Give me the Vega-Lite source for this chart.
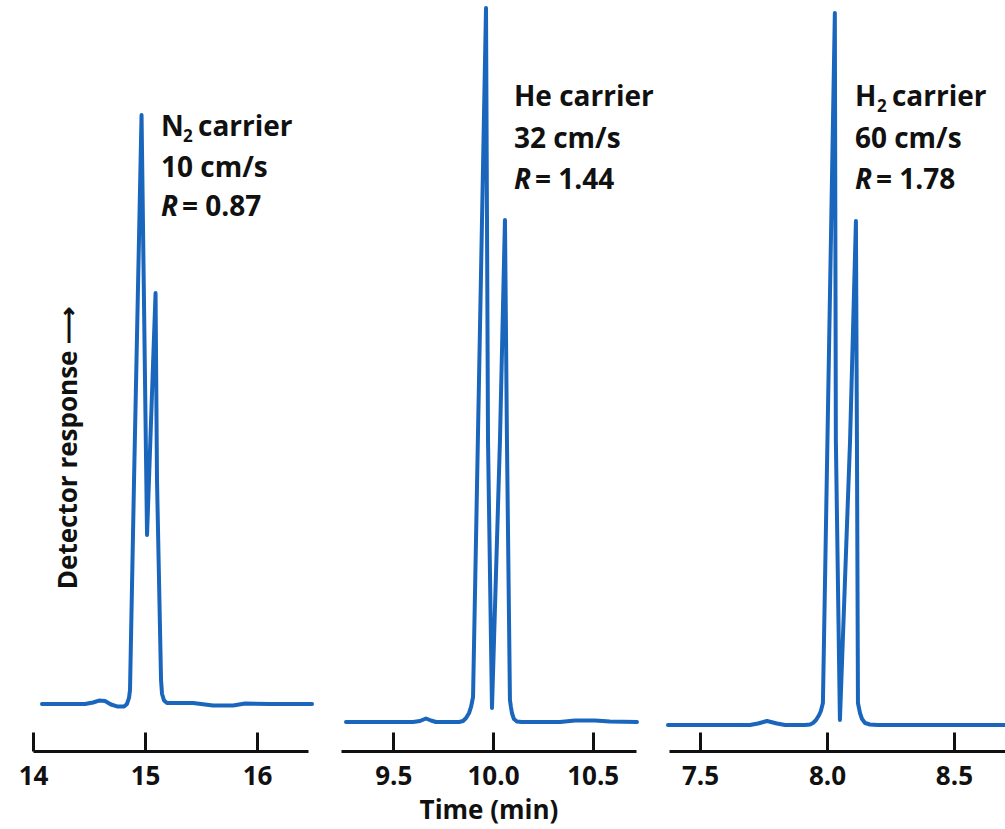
{
  "$schema": "https://vega.github.io/schema/vega-lite/v6.json",
  "background": "white",
  "padding": {"left": 18, "top": 0, "right": 0, "bottom": 12},
  "autosize": {"type": "pad"},
  "config": {
    "view": {"stroke": null},
    "axis": {"grid": false, "domainColor": "#111", "domainWidth": 3, "tickColor": "#111", "tickWidth": 3, "tickSize": -19, "labelFont": "Open Sans", "labelFontWeight": "bold", "labelFontSize": 26, "labelColor": "#111", "labelPadding": 31, "labelFlush": false, "labelOverlap": false, "titleFont": "Open Sans", "titleFontWeight": "bold", "titleFontSize": 26, "titleColor": "#111", "titlePadding": 8},
    "text": {"font": "Open Sans", "fontWeight": "bold", "fontSize": 28, "color": "#111", "align": "left", "baseline": "alphabetic"}
  },
  "datasets": {
    "trace": [
      {"panel": "N2", "t": 14.080, "v": 6.26}, {"panel": "N2", "t": 14.464, "v": 6.26}, {"panel": "N2", "t": 14.536, "v": 6.46}, {"panel": "N2", "t": 14.589, "v": 6.72}, {"panel": "N2", "t": 14.643, "v": 6.66}, {"panel": "N2", "t": 14.696, "v": 6.19}, {"panel": "N2", "t": 14.750, "v": 5.93}, {"panel": "N2", "t": 14.813, "v": 5.93}, {"panel": "N2", "t": 14.839, "v": 6.26}, {"panel": "N2", "t": 14.857, "v": 7.06}, {"panel": "N2", "t": 14.866, "v": 8.12}, {"panel": "N2", "t": 14.902, "v": 36.08}, {"panel": "N2", "t": 14.969, "v": 84.69}, {"panel": "N2", "t": 15.018, "v": 28.76}, {"panel": "N2", "t": 15.094, "v": 60.99}, {"panel": "N2", "t": 15.107, "v": 36.08}, {"panel": "N2", "t": 15.143, "v": 9.45}, {"panel": "N2", "t": 15.152, "v": 7.59}, {"panel": "N2", "t": 15.170, "v": 6.72}, {"panel": "N2", "t": 15.196, "v": 6.39}, {"panel": "N2", "t": 15.429, "v": 6.39}, {"panel": "N2", "t": 15.607, "v": 6.06}, {"panel": "N2", "t": 15.786, "v": 6.06}, {"panel": "N2", "t": 15.893, "v": 6.32}, {"panel": "N2", "t": 16.116, "v": 6.26}, {"panel": "N2", "t": 16.491, "v": 6.26},
      {"panel": "He", "t": 9.263, "v": 3.86}, {"panel": "He", "t": 9.599, "v": 3.86}, {"panel": "He", "t": 9.634, "v": 3.99}, {"panel": "He", "t": 9.664, "v": 4.33}, {"panel": "He", "t": 9.689, "v": 4.06}, {"panel": "He", "t": 9.714, "v": 3.86}, {"panel": "He", "t": 9.830, "v": 3.86}, {"panel": "He", "t": 9.850, "v": 3.99}, {"panel": "He", "t": 9.865, "v": 4.39}, {"panel": "He", "t": 9.880, "v": 5.06}, {"panel": "He", "t": 9.890, "v": 5.86}, {"panel": "He", "t": 9.900, "v": 7.19}, {"panel": "He", "t": 9.965, "v": 98.94}, {"panel": "He", "t": 9.975, "v": 41.41}, {"panel": "He", "t": 9.995, "v": 5.73}, {"panel": "He", "t": 10.035, "v": 41.41}, {"panel": "He", "t": 10.060, "v": 70.71}, {"panel": "He", "t": 10.070, "v": 41.41}, {"panel": "He", "t": 10.085, "v": 6.79}, {"panel": "He", "t": 10.090, "v": 5.86}, {"panel": "He", "t": 10.095, "v": 5.06}, {"panel": "He", "t": 10.105, "v": 4.26}, {"panel": "He", "t": 10.120, "v": 3.93}, {"panel": "He", "t": 10.145, "v": 3.86}, {"panel": "He", "t": 10.336, "v": 3.86}, {"panel": "He", "t": 10.411, "v": 4.06}, {"panel": "He", "t": 10.511, "v": 4.06}, {"panel": "He", "t": 10.586, "v": 3.93}, {"panel": "He", "t": 10.722, "v": 3.86},
      {"panel": "H2", "t": 7.374, "v": 3.46}, {"panel": "H2", "t": 7.697, "v": 3.46}, {"panel": "H2", "t": 7.728, "v": 3.66}, {"panel": "H2", "t": 7.764, "v": 3.99}, {"panel": "H2", "t": 7.803, "v": 3.66}, {"panel": "H2", "t": 7.835, "v": 3.46}, {"panel": "H2", "t": 7.913, "v": 3.46}, {"panel": "H2", "t": 7.933, "v": 3.53}, {"panel": "H2", "t": 7.945, "v": 3.73}, {"panel": "H2", "t": 7.957, "v": 4.13}, {"panel": "H2", "t": 7.969, "v": 4.79}, {"panel": "H2", "t": 7.976, "v": 5.33}, {"panel": "H2", "t": 7.984, "v": 6.39}, {"panel": "H2", "t": 8.031, "v": 98.27}, {"panel": "H2", "t": 8.035, "v": 41.41}, {"panel": "H2", "t": 8.051, "v": 4.13}, {"panel": "H2", "t": 8.091, "v": 41.41}, {"panel": "H2", "t": 8.114, "v": 70.57}, {"panel": "H2", "t": 8.118, "v": 41.41}, {"panel": "H2", "t": 8.122, "v": 6.39}, {"panel": "H2", "t": 8.130, "v": 5.06}, {"panel": "H2", "t": 8.138, "v": 4.26}, {"panel": "H2", "t": 8.150, "v": 3.73}, {"panel": "H2", "t": 8.169, "v": 3.53}, {"panel": "H2", "t": 8.200, "v": 3.46}, {"panel": "H2", "t": 8.701, "v": 3.46}
    ],
    "labels": [
      {"panel": "N2", "part": "yaxis", "t": 14.393, "v": 40.35, "text": "Detector response ⟶"},
      {"panel": "N2", "part": "sym", "t": 15.143, "v": 81.89, "text": "N"},
      {"panel": "N2", "part": "sub", "t": 15.143, "v": 81.89, "text": "2"},
      {"panel": "N2", "part": "rest", "t": 15.143, "v": 81.89, "text": "carrier"},
      {"panel": "N2", "part": "plain", "t": 15.143, "v": 76.43, "text": "10 cm/s"},
      {"panel": "N2", "part": "R", "t": 15.143, "v": 71.24, "text": "R"},
      {"panel": "N2", "part": "eq", "t": 15.143, "v": 71.24, "text": "= 0.87"},
      {"panel": "He", "part": "plain", "t": 10.105, "v": 85.89, "text": "He carrier"},
      {"panel": "He", "part": "plain", "t": 10.105, "v": 80.29, "text": "32 cm/s"},
      {"panel": "He", "part": "R", "t": 10.105, "v": 74.83, "text": "R"},
      {"panel": "He", "part": "eq", "t": 10.105, "v": 74.83, "text": "= 1.44"},
      {"panel": "H2", "part": "sym", "t": 8.110, "v": 85.89, "text": "H"},
      {"panel": "H2", "part": "sub", "t": 8.110, "v": 85.89, "text": "2"},
      {"panel": "H2", "part": "rest", "t": 8.110, "v": 85.89, "text": "carrier"},
      {"panel": "H2", "part": "plain", "t": 8.110, "v": 80.29, "text": "60 cm/s"},
      {"panel": "H2", "part": "R", "t": 8.110, "v": 74.83, "text": "R"},
      {"panel": "H2", "part": "eq", "t": 8.110, "v": 74.83, "text": "= 1.78"}
    ]
  },
  "spacing": 33,
  "bounds": "flush",
  "hconcat": [
    {
      "width": 275, "height": 751,
      "encoding": {
        "x": {"field": "t", "type": "quantitative", "scale": {"domain": [14, 16.455], "nice": false, "zero": false}, "axis": {"values": [14, 15, 16], "format": "d", "title": null}},
        "y": {"field": "v", "type": "quantitative", "scale": {"domain": [0, 100], "nice": false, "zero": false}, "axis": null}
      },
      "layer": [
        {"data": {"name": "trace"}, "transform": [{"filter": "datum.panel === 'N2'"}], "mark": {"type": "line", "color": "#1a66bd", "strokeWidth": 4, "strokeJoin": "round", "strokeCap": "round"}},
        {"data": {"name": "labels"}, "transform": [{"filter": "datum.panel === 'N2' && datum.part === 'yaxis'"}], "mark": {"type": "text", "angle": 270, "align": "center", "fontSize": 26}, "encoding": {"text": {"field": "text"}}},
        {"data": {"name": "labels"}, "transform": [{"filter": "datum.panel === 'N2' && (datum.part === 'plain' || datum.part === 'sym')"}], "mark": {"type": "text"}, "encoding": {"text": {"field": "text"}}},
        {"data": {"name": "labels"}, "transform": [{"filter": "datum.panel === 'N2' && datum.part === 'sub'"}], "mark": {"type": "text", "fontSize": 17, "dx": 22, "dy": 6}, "encoding": {"text": {"field": "text"}}},
        {"data": {"name": "labels"}, "transform": [{"filter": "datum.panel === 'N2' && datum.part === 'rest'"}], "mark": {"type": "text", "dx": 37}, "encoding": {"text": {"field": "text"}}},
        {"data": {"name": "labels"}, "transform": [{"filter": "datum.panel === 'N2' && datum.part === 'R'"}], "mark": {"type": "text", "fontStyle": "italic"}, "encoding": {"text": {"field": "text"}}},
        {"data": {"name": "labels"}, "transform": [{"filter": "datum.panel === 'N2' && datum.part === 'eq'"}], "mark": {"type": "text", "dx": 21}, "encoding": {"text": {"field": "text"}}}
      ]
    },
    {
      "width": 295, "height": 751,
      "encoding": {
        "x": {"field": "t", "type": "quantitative", "scale": {"domain": [9.238, 10.717], "nice": false, "zero": false}, "axis": {"values": [9.5, 10, 10.5], "format": ".1f", "title": "Time (min)"}},
        "y": {"field": "v", "type": "quantitative", "scale": {"domain": [0, 100], "nice": false, "zero": false}, "axis": null}
      },
      "layer": [
        {"data": {"name": "trace"}, "transform": [{"filter": "datum.panel === 'He'"}], "mark": {"type": "line", "color": "#1a66bd", "strokeWidth": 4, "strokeJoin": "round", "strokeCap": "round"}},
        {"data": {"name": "labels"}, "transform": [{"filter": "datum.panel === 'He' && (datum.part === 'plain' || datum.part === 'sym')"}], "mark": {"type": "text"}, "encoding": {"text": {"field": "text"}}},
        {"data": {"name": "labels"}, "transform": [{"filter": "datum.panel === 'He' && datum.part === 'R'"}], "mark": {"type": "text", "fontStyle": "italic"}, "encoding": {"text": {"field": "text"}}},
        {"data": {"name": "labels"}, "transform": [{"filter": "datum.panel === 'He' && datum.part === 'eq'"}], "mark": {"type": "text", "dx": 21}, "encoding": {"text": {"field": "text"}}}
      ]
    },
    {
      "width": 336, "height": 751,
      "encoding": {
        "x": {"field": "t", "type": "quantitative", "scale": {"domain": [7.378, 8.701], "nice": false, "zero": false}, "axis": {"values": [7.5, 8, 8.5], "format": ".1f", "title": null}},
        "y": {"field": "v", "type": "quantitative", "scale": {"domain": [0, 100], "nice": false, "zero": false}, "axis": null}
      },
      "layer": [
        {"data": {"name": "trace"}, "transform": [{"filter": "datum.panel === 'H2'"}], "mark": {"type": "line", "color": "#1a66bd", "strokeWidth": 4, "strokeJoin": "round", "strokeCap": "round"}},
        {"data": {"name": "labels"}, "transform": [{"filter": "datum.panel === 'H2' && (datum.part === 'plain' || datum.part === 'sym')"}], "mark": {"type": "text"}, "encoding": {"text": {"field": "text"}}},
        {"data": {"name": "labels"}, "transform": [{"filter": "datum.panel === 'H2' && datum.part === 'sub'"}], "mark": {"type": "text", "fontSize": 17, "dx": 22, "dy": 6}, "encoding": {"text": {"field": "text"}}},
        {"data": {"name": "labels"}, "transform": [{"filter": "datum.panel === 'H2' && datum.part === 'rest'"}], "mark": {"type": "text", "dx": 37}, "encoding": {"text": {"field": "text"}}},
        {"data": {"name": "labels"}, "transform": [{"filter": "datum.panel === 'H2' && datum.part === 'R'"}], "mark": {"type": "text", "fontStyle": "italic"}, "encoding": {"text": {"field": "text"}}},
        {"data": {"name": "labels"}, "transform": [{"filter": "datum.panel === 'H2' && datum.part === 'eq'"}], "mark": {"type": "text", "dx": 21}, "encoding": {"text": {"field": "text"}}}
      ]
    }
  ]
}
